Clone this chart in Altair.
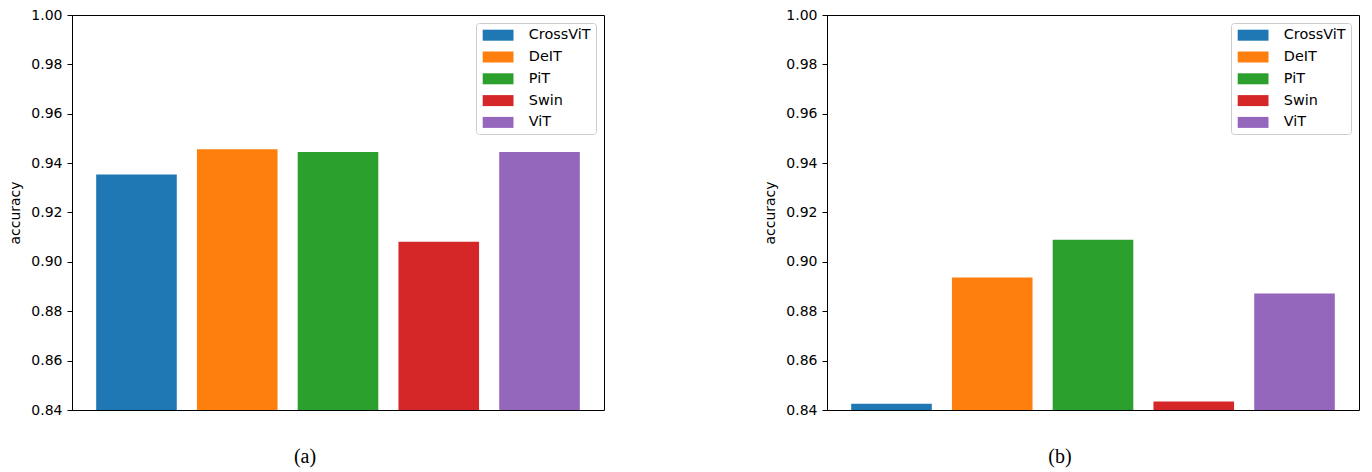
import altair as alt
import pandas as pd

models = ["CrossViT", "DeIT", "PiT", "Swin", "ViT"]
acc_a = [0.9354, 0.9456, 0.9445, 0.9082, 0.9445]
acc_b = [0.8425, 0.8937, 0.9090, 0.8434, 0.8872]
colors = ["#1f77b4", "#ff7f0e", "#2ca02c", "#d62728", "#9467bd"]
captions = ["(a)", "(b)"]
y_ticks = [0.84, 0.86, 0.88, 0.90, 0.92, 0.94, 0.96, 0.98, 1.00]
y_title = "accuracy"

FONT = "DejaVu Sans"


def panel(vals, caption):
    df = pd.DataFrame({"model": models, "accuracy": vals})
    bars = alt.Chart(df).mark_bar(clip=True).encode(
        x=alt.X("model:N", sort=models,
                scale=alt.Scale(paddingInner=0.2, paddingOuter=0.24),
                axis=None),
        y=alt.Y("accuracy:Q",
                scale=alt.Scale(domain=[0.84, 1.0], nice=False, zero=False),
                axis=alt.Axis(values=y_ticks, format=".2f", title=y_title,
                              grid=False, tickSize=5, labelPadding=5,
                              titlePadding=8, labelFontSize=14,
                              titleFontSize=14, titleFontWeight="normal",
                              labelFont=FONT, titleFont=FONT,
                              labelColor="black", titleColor="black",
                              domainColor="black", tickColor="black")),
        color=alt.Color("model:N", sort=models,
                        scale=alt.Scale(domain=models, range=colors),
                        legend=alt.Legend(
                            title=None, orient="top-right", offset=8,
                            padding=5, fillColor="white",
                            strokeColor="#cccccc", cornerRadius=3,
                            symbolType="M-2.8,-1H2.8V1H-2.8Z",
                            symbolSize=121, symbolOffset=9.9,
                            symbolStrokeWidth=0, symbolOpacity=1,
                            labelOffset=23.5, labelFontSize=14.4,
                            labelFont=FONT, labelColor="black",
                            rowPadding=6.8)),
    )
    cap = alt.Chart(pd.DataFrame({"t": [caption]})).mark_text(
        font="Liberation Serif", fontSize=20, baseline="middle",
        align="center", color="black"
    ).encode(x=alt.value(233), y=alt.value(442), text="t:N")
    return alt.layer(bars, cap).properties(width=532, height=395)


chart = alt.hconcat(
    panel(acc_a, captions[0]), panel(acc_b, captions[1]), spacing=158
).resolve_scale(color="independent").resolve_legend(
    color="independent"
).properties(
    padding={"left": 0, "top": -1, "right": 0, "bottom": 0}
).configure_view(stroke="black", strokeWidth=1)

chart.save("out.html", embed_options={"renderer": "svg", "actions": False})
